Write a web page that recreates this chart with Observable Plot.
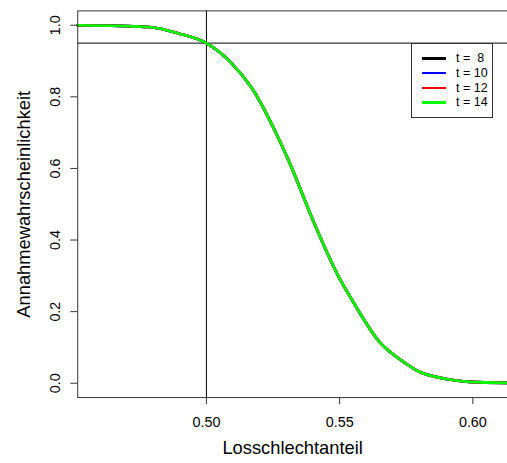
<!DOCTYPE html>
<html>
<head>
<meta charset="utf-8">
<script src="https://cdn.jsdelivr.net/npm/d3@7"></script>
<script src="https://cdn.jsdelivr.net/npm/@observablehq/plot@0.6"></script>
<style>
  html, body { margin: 0; padding: 0; background: #fff; }
  #wrap { position: relative; width: 507px; height: 463px; overflow: hidden; font-family: "Liberation Sans", Arial, sans-serif; }
  #legend { position: absolute; left: 411px; top: 43px; width: 82px; height: 75px; border: 1px solid #333; background: #fff; box-sizing: border-box; }
  .row { position: absolute; left: 0; height: 14px; font-size: 12.5px; line-height: 14px; white-space: pre; color: #000; font-weight: normal; }
  .sw { position: absolute; left: 10px; top: 6px; width: 24px; height: 2.5px; }
  .lb { position: absolute; left: 44px; top: 0; }
</style>
</head>
<body>
<div id="wrap"></div>
<script>
// Losschlechtanteil (x) values
const pValues = [0.4517, 0.4673, 0.4785, 0.4896, 0.5000, 0.5093, 0.5167, 0.5305, 0.5405, 0.5498, 0.5539, 0.5651, 0.5739, 0.5799, 0.5900, 0.5985, 0.6130];
// Annahmewahrscheinlichkeit for each t (the curves coincide in the picture)
const acceptT8  = [1.000, 0.998, 0.995, 0.977, 0.950, 0.895, 0.828, 0.628, 0.446, 0.295, 0.242, 0.114, 0.060, 0.032, 0.012, 0.004, 0.001];
const acceptT10 = [1.000, 0.998, 0.995, 0.977, 0.950, 0.895, 0.828, 0.628, 0.446, 0.295, 0.242, 0.114, 0.060, 0.032, 0.012, 0.004, 0.001];
const acceptT12 = [1.000, 0.998, 0.995, 0.977, 0.950, 0.895, 0.828, 0.628, 0.446, 0.295, 0.242, 0.114, 0.060, 0.032, 0.012, 0.004, 0.001];
const acceptT14 = [1.000, 0.998, 0.995, 0.977, 0.950, 0.895, 0.828, 0.628, 0.446, 0.295, 0.242, 0.114, 0.060, 0.032, 0.012, 0.004, 0.001];
const seriesNames = ["t =  8", "t = 10", "t = 12", "t = 14"];
const seriesColors = ["#000000", "#0000ff", "#ff0000", "#00ff00"];
const xTicks = [0.50, 0.55, 0.60];
const yTicks = [0.0, 0.2, 0.4, 0.6, 0.8, 1.0];
const refX = [0.50];
const refY = [0.95];
const xLabel = "Losschlechtanteil";
const yLabel = "Annahmewahrscheinlichkeit";

const allSeries = [acceptT8, acceptT10, acceptT12, acceptT14];
const lineMarks = allSeries.map((vals, i) =>
  Plot.line(pValues.map((p, j) => ({p, a: vals[j]})), {
    x: "p", y: "a", stroke: seriesColors[i], strokeWidth: 2.7, curve: "monotone-x"
  })
);

const chart = Plot.plot({
  width: 512,
  height: 463,
  marginLeft: 78,
  marginRight: 0,
  marginTop: 10.5,
  marginBottom: 62,
  style: { fontFamily: "'Liberation Sans', Arial, sans-serif", fontSize: "14.5px", background: "#fff", color: "#000" },
  x: { domain: [0.4517, 0.6130], axis: null },
  y: { domain: [-0.04, 1.04], axis: null },
  marks: [
    Plot.ruleY(refY, { stroke: "#000", strokeWidth: 1 }),
    Plot.ruleX(refX, { stroke: "#000", strokeWidth: 1 }),
    ...lineMarks,
    Plot.frame({ stroke: "#333", strokeWidth: 1 }),
    Plot.axisX({ ticks: xTicks, tickFormat: d => d.toFixed(2), tickSize: 7, tickPadding: 12, fontSize: 14.5, label: null, stroke: "#333" }),
    Plot.axisY({ ticks: yTicks, tickFormat: () => "", tickSize: 7, label: null, stroke: "#333" }),
    Plot.text(yTicks, { y: d => d, text: d => d.toFixed(1), frameAnchor: "left", textAnchor: "middle", lineAnchor: "middle", dx: -23, rotate: -90, fontSize: 14.5, fill: "#000" }),
    Plot.text([xLabel], { text: d => d, frameAnchor: "bottom", textAnchor: "middle", lineAnchor: "middle", dy: 51, fontSize: 18.5, fill: "#000" }),
    Plot.text([yLabel], { text: d => d, frameAnchor: "left", textAnchor: "middle", lineAnchor: "middle", dx: -54, rotate: -90, fontSize: 18.5, fill: "#000" })
  ]
});

const wrap = document.getElementById("wrap");
wrap.appendChild(chart);

const legend = document.createElement("div");
legend.id = "legend";
seriesNames.forEach((name, i) => {
  const row = document.createElement("div");
  row.className = "row";
  row.style.top = (7 + i * 14.8) + "px";
  row.style.width = "100%";
  const sw = document.createElement("div");
  sw.className = "sw";
  sw.style.background = seriesColors[i];
  const lb = document.createElement("span");
  lb.className = "lb";
  lb.textContent = name;
  row.appendChild(sw);
  row.appendChild(lb);
  legend.appendChild(row);
});
wrap.appendChild(legend);
</script>
</body>
</html>
